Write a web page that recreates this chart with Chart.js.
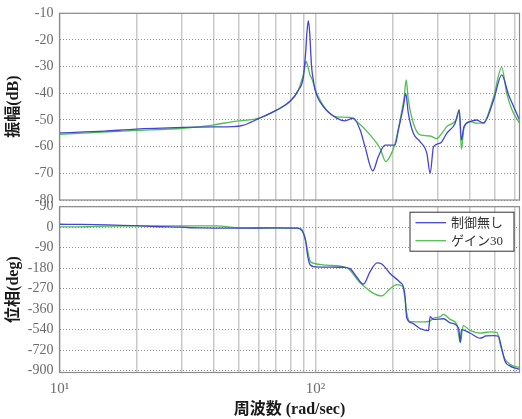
<!DOCTYPE html>
<html>
<head>
<meta charset="utf-8">
<script src="https://cdn.jsdelivr.net/npm/chart.js@4.4.1/dist/chart.umd.min.js"></script>
<style>
  html, body { margin: 0; padding: 0; background: #fff; }
  #wrap { position: relative; width: 522px; height: 419px; overflow: hidden; }
  canvas { position: absolute; left: 0; }
  #mag { top: 0; }
  #phase { top: 201px; }
</style>
</head>
<body>
<div id="wrap">
  <canvas id="mag" width="522" height="203"></canvas>
  <canvas id="phase" width="522" height="218"></canvas>
</div>
<script>
// series names (legend)
const seriesNames = ['制御無し', 'ゲイン30'];

// gridlines on the frequency axis (rad/sec)
const freqGrid = [10, 20, 30, 40, 50, 60, 70, 80, 90, 100, 200, 300, 400, 500, 600];

// tick labels
const magTicks = [-10, -20, -30, -40, -50, -60, -70, -80];
const phaseTicks = [90, 0, -90, -180, -270, -360, -540, -720, -900];

// 振幅 (dB) - 制御無し
const magFreqA = [10, 15, 19.3, 30.4, 40, 47.5, 52, 59.6, 70.4, 79.4, 85.7, 89.6, 90.5, 91.6, 92.5, 93.7, 95, 95.8, 96.6, 98,
  99.6, 107.3, 121, 130.4, 140.5, 149.3, 156, 167.3, 175.9, 186.8, 204.4, 210.6, 220.3, 225, 230.3, 241, 255.9, 272.1, 280.3, 289,
  307, 325.4, 350.6, 364.2, 371.2, 379.8, 401, 425.4, 452.5, 496.1, 533.5, 567.6, 594, 626];
const magA = [-54.8, -54.2, -53.5, -52.8, -52.6, -52.5, -52.0, -49.6, -46.3, -43.1, -38.8, -34, -30, -24, -17.5, -12.8, -18, -25, -30.5, -35,
  -38.8, -45, -49.3, -50.3, -49.3, -53.7, -60, -69.1, -63.7, -59.4, -59.4, -53.7, -45, -40, -47.4, -55, -58.1, -62.5, -70, -60,
  -58.7, -55, -51.3, -46.3, -57.5, -52.5, -50.6, -50, -51.2, -42.5, -33.1, -40.6, -45, -50];

// 振幅 (dB) - ゲイン30
const magFreqB = [10, 19.3, 30.4, 39.7, 47.5, 59.6, 70.4, 79.4, 85.7, 88, 89.6, 91, 91.8, 92.6, 93.7, 95, 96.6, 101.1, 110.6, 121,
  136.3, 144.9, 163.3, 178.6, 188, 197, 204.4, 213.8, 222, 226, 230.3, 241, 255.9, 280.3, 297.9, 311.4, 325.4, 356.2, 364.2, 371.2,
  379.8, 401, 425.4, 452.5, 496.1, 533.5, 558, 585.5, 626];
const magB = [-55.4, -54, -53.1, -51.9, -50.6, -49.4, -46.3, -43, -38.8, -35.5, -33, -29.5, -27.9, -28.8, -30.6, -33, -34.4, -40, -46.3, -48.8,
  -49, -50.6, -55.6, -60.6, -65.6, -63, -58.8, -50, -41.3, -35, -42.5, -51.2, -55.6, -56, -57, -55, -52.5, -49.4, -46, -61,
  -53.1, -50.6, -51.2, -51, -41.3, -30.3, -40, -46.3, -51.2];

// 位相 (deg) - 制御無し
const phaseFreqA = [10, 12.2, 15.4, 20, 23.5, 29.6, 35, 50, 70, 84.7, 87, 89.6, 91.5, 93, 95.2, 99.6, 128.4, 136.3, 145, 153.8,
  163.3, 174, 181.3, 195.4, 213.8, 220.3, 223.5, 227, 237.7, 255.9, 276, 280.3, 289, 316.3, 335.4, 361.9, 367.7, 371.2, 401, 438.7,
  464, 496.1, 518.2, 530.4, 550, 576, 603, 626];
const phaseA = [13, 12, 10, 7, 3, 0, -3, -4, -3, -4, -8, -25, -60, -120, -165, -174, -176, -182, -220, -250,
  -195, -157, -162, -203, -242, -261, -302, -435, -480, -530, -549, -426, -450, -444, -480, -525, -650, -540, -569, -615,
  -595, -592, -598, -680, -820, -860, -878, -888];

// 位相 (deg) - ゲイン30
const phaseFreqB = [10, 13, 15.4, 20, 41, 49, 60, 84.7, 88.3, 89.3, 91, 92.4, 95.2, 98, 110.6, 132.4, 149.3, 181.3, 195.4, 207.5,
  219, 223.5, 227, 233.9, 263.8, 280.3, 289, 307, 316.3, 335.4, 356.2, 367.7, 377.3, 401, 438.7, 481, 511.4, 530.4, 550, 576,
  603, 626];
const phaseB = [1, 2, 5, 6, 6, -2, -4, -4, -8, -20, -50, -83, -148, -158, -167, -178, -244, -302, -270, -252,
  -261, -313, -390, -470, -472, -462, -440, -426, -405, -450, -495, -656, -504, -546, -570, -560, -565, -700, -801, -845,
  -865, -870];

const colors = ['#4444d4', '#4fbf4f'];
const serif = "'Liberation Serif', 'Noto Sans CJK JP'";

// phase axis is drawn with evenly spaced labels, so map degrees onto label positions
function phasePos(d) {
  const n = phaseTicks.length - 1;
  for (let i = 0; i < n; i++) {
    const hi = phaseTicks[i], lo = phaseTicks[i + 1];
    if (d >= lo || i === n - 1) return (n - i) - (hi - d) / (hi - lo);
  }
}

const pts = (xs, ys, f = v => v) => xs.map((x, i) => ({ x, y: f(ys[i]) }));

function lineSet(label, data, color) {
  return {
    label, data,
    borderColor: color, backgroundColor: color,
    borderWidth: 1.3, pointRadius: 0,
    cubicInterpolationMode: 'monotone',
  };
}

// frame around the plot area
const frame = {
  id: 'frame',
  afterDraw(chart) {
    const { ctx, chartArea: a } = chart;
    ctx.save();
    ctx.strokeStyle = '#8a8a8a';
    ctx.lineWidth = 1.2;
    ctx.strokeRect(a.left, a.top, a.right - a.left, a.bottom - a.top);
    ctx.restore();
  },
};

// boxed legend in the upper right of the phase plot
const legendBox = {
  id: 'legendBox',
  afterDraw(chart) {
    const { ctx, chartArea: a } = chart;
    const w = 104, h = 39;
    const x = a.right - w - 5.5, y = a.top + 5.5;
    ctx.save();
    ctx.fillStyle = '#fff';
    ctx.fillRect(x, y, w, h);
    ctx.strokeStyle = '#333';
    ctx.lineWidth = 1;
    ctx.strokeRect(x, y, w, h);
    ctx.font = '13px ' + serif;
    ctx.textBaseline = 'middle';
    chart.data.datasets.forEach((ds, i) => {
      const ly = y + 10.5 + i * 18;
      ctx.strokeStyle = ds.borderColor;
      ctx.lineWidth = 1.3;
      ctx.beginPath();
      ctx.moveTo(x + 5.5, ly);
      ctx.lineTo(x + 36, ly);
      ctx.stroke();
      ctx.fillStyle = '#333';
      ctx.fillText(ds.label, x + 41, ly + 1);
    });
    ctx.restore();
  },
};

function freqAxis(showLabels) {
  return {
    type: 'logarithmic',
    min: 10,
    max: 626,
    afterBuildTicks: s => { s.ticks = freqGrid.map(v => ({ value: v })); },
    afterFit: s => { s.height = showLabels ? 46.5 : 0; s.paddingLeft = 0; s.paddingRight = 0; },
    grid: { color: '#c9c9c9', lineWidth: 1.5, drawTicks: false },
    border: { display: false },
    ticks: {
      display: showLabels,
      autoSkip: false,
      maxRotation: 0,
      padding: 8,
      color: '#6b6b6b',
      font: { family: serif, size: 15 },
      callback: v => (v === 10 ? '10¹' : v === 100 ? '10²' : ''),
    },
    title: {
      display: showLabels,
      text: '周波数 (rad/sec)',
      color: '#1a1a1a',
      font: { family: serif, size: 16, weight: 'bold' },
      padding: { top: 0, bottom: 0 },
    },
  };
}

function valueAxis(title, extra) {
  return Object.assign({
    afterFit: s => { s.width = 59.5; s.paddingTop = 0; s.paddingBottom = 0; },
    grid: { color: '#8f8f8f', lineWidth: 1, drawTicks: false },
    border: { display: false, dash: [1, 2] },
    ticks: { padding: 6, color: '#6b6b6b', font: { family: serif, size: 14 } },
    title: {
      display: true,
      text: title,
      color: '#1a1a1a',
      font: { family: serif, size: 16, weight: 'bold' },
      padding: { top: 4, bottom: 0 },
    },
  }, extra);
}

const common = {
  responsive: false,
  animation: false,
  plugins: { legend: { display: false }, tooltip: { enabled: false } },
};

new Chart(document.getElementById('mag'), {
  type: 'line',
  data: {
    datasets: [
      lineSet(seriesNames[0], pts(magFreqA, magA), colors[0]),
      lineSet(seriesNames[1], pts(magFreqB, magB), colors[1]),
    ],
  },
  options: {
    ...common,
    layout: { padding: { top: 13.3, bottom: 3, left: 0, right: 2.5 } },
    scales: {
      x: freqAxis(false),
      y: valueAxis('振幅(dB)', {
        min: magTicks[magTicks.length - 1],
        max: magTicks[0],
        afterBuildTicks: s => { s.ticks = magTicks.map(v => ({ value: v })); },
      }),
    },
  },
  plugins: [frame],
});

new Chart(document.getElementById('phase'), {
  type: 'line',
  data: {
    datasets: [
      lineSet(seriesNames[0], pts(phaseFreqA, phaseA, phasePos), colors[0]),
      lineSet(seriesNames[1], pts(phaseFreqB, phaseB, phasePos), colors[1]),
    ],
  },
  options: {
    ...common,
    layout: { padding: { top: 5.7, bottom: 0, left: 0, right: 2.5 } },
    scales: {
      x: freqAxis(true),
      y: valueAxis('位相(deg)', {
        min: -0.09,
        max: phaseTicks.length - 1,
        afterBuildTicks: s => { s.ticks = phaseTicks.map((v, i) => ({ value: phaseTicks.length - 1 - i })); },
        ticks: {
          padding: 6, color: '#6b6b6b', font: { family: serif, size: 14 },
          callback: v => phaseTicks[phaseTicks.length - 1 - Math.round(v)],
        },
      }),
    },
  },
  plugins: [frame, legendBox],
});
</script>
</body>
</html>
